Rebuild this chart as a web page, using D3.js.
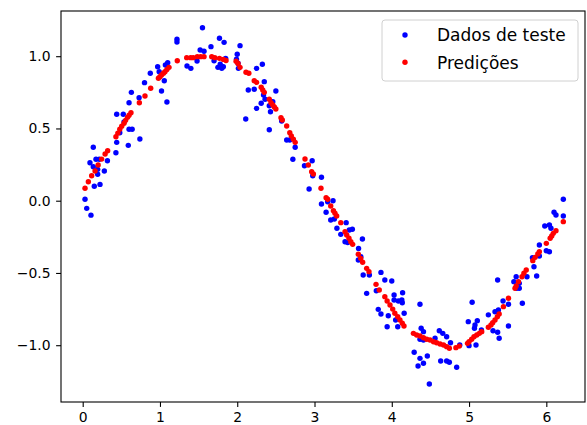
<!DOCTYPE html>
<html>
<head>
<meta charset="utf-8">
<script src="https://cdn.jsdelivr.net/npm/d3@7/dist/d3.min.js"></script>
<style>
  html, body { margin: 0; padding: 0; background: #fff; }
  svg { display: block; }
  text { font-family: "DejaVu Sans", sans-serif; fill: #000; }
</style>
</head>
<body>
<div id="chart"></div>
<script>
// Test samples of a noisy sine and the model's predictions at the same inputs
const testX = [0.137,0.172,0.215,0.32,0.094,0.137,0.194,0.28,0.194,0.15,0.224,0.03,0.052,0.107,
  0.43,0.44,0.59,0.74,0.48,0.60,0.64,0.535,0.44,0.525,0.60,0.73,0.63,0.80,0.875,0.99,0.97,1.07,
  1.10,1.056,1.02,1.09,1.22,1.22,1.35,1.40,1.48,1.52,1.57,1.55,1.66,1.70,1.77,1.83,1.78,1.82,
  1.75,1.80,1.85,1.99,2.01,2.036,2.0,2.015,2.325,2.25,2.35,2.143,2.22,2.50,2.34,2.36,2.46,2.31,
  2.25,2.415,2.43,2.11,2.575,2.415,2.64,2.68,2.75,2.72,2.97,2.87,2.977,3.09,2.93,3.09,3.17,3.24,
  3.15,3.21,3.257,3.41,3.29,3.45,3.49,3.34,3.62,3.395,3.43,3.57,3.60,3.567,3.86,3.63,3.71,3.91,
  4.0,3.80,3.675,4.14,4.03,4.03,4.085,4.13,4.136,3.825,3.86,3.955,4.16,4.05,3.94,4.077,4.365,
  4.38,4.41,4.615,4.66,4.71,4.76,4.365,4.41,4.56,4.29,4.365,4.41,4.46,4.34,4.633,4.71,4.745,4.84,
  4.486,4.88,5.0,5.09,4.99,5.107,5.077,5.07,5.16,5.04,5.25,5.336,5.38,5.31,5.37,5.39,5.44,5.51,
  5.69,5.51,5.37,5.58,5.65,5.615,5.65,5.61,5.75,5.875,5.84,5.82,5.91,5.91,6.0,6.04,5.98,6.04,
  6.06,6.10,6.125,6.22,6.22];
const testY = [0.37,0.287,0.287,0.277,0.263,0.235,0.217,0.206,0.183,0.10,0.113,0.01,-0.053,-0.10,
  0.332,0.404,0.383,0.427,0.47,0.494,0.494,0.545,0.598,0.598,0.678,0.713,0.75,0.817,0.882,0.893,
  0.927,0.939,0.955,0.83,0.759,0.683,1.117,1.098,0.932,0.916,0.967,1.043,1.034,1.197,1.066,0.969,
  1.124,1.096,0.944,0.927,0.923,0.916,0.985,0.979,0.951,1.073,1.013,0.916,0.944,0.916,0.824,0.766,
  0.771,0.759,0.731,0.702,0.685,0.674,0.639,0.657,0.616,0.565,0.552,0.491,0.42,0.42,0.37,0.287,
  0.277,0.242,0.173,0.162,0.081,-0.023,-0.007,0.0,-0.08,-0.134,-0.127,-0.152,-0.191,-0.203,-0.198,
  -0.233,-0.265,-0.284,-0.29,-0.33,-0.387,-0.41,-0.496,-0.514,-0.514,-0.549,-0.556,-0.623,-0.641,
  -0.637,-0.653,-0.687,-0.694,-0.687,-0.706,-0.752,-0.784,-0.796,-0.779,-0.826,-0.872,-0.872,-0.717,
  -0.883,-0.906,-0.9,-0.918,-0.941,-0.983,-0.959,-0.964,-0.952,-1.049,-1.091,-1.125,-1.075,-1.144,
  -1.109,-1.109,-1.118,-1.153,-1.268,-0.999,-1.003,-0.999,-0.837,-0.83,-0.86,-0.883,-0.895,-0.703,
  -0.79,-0.768,-0.756,-0.9,-0.91,-0.952,-0.694,-0.717,-0.71,-0.867,-0.549,-0.56,-0.572,-0.606,
  -0.606,-0.526,-0.526,-0.521,-0.457,-0.394,-0.383,-0.307,-0.346,-0.353,-0.175,-0.168,-0.191,-0.08,
  -0.099,-0.106,0.01];

const predX = [0.03,0.073,0.116,0.16,0.20,0.245,0.29,0.323,0.43,0.455,0.48,0.505,0.535,0.555,0.58,
  0.60,0.625,0.733,0.806,0.88,0.98,1.0,1.02,1.045,1.065,1.09,1.117,1.224,1.346,1.397,1.43,1.483,
  1.527,1.57,1.67,1.71,1.77,1.82,1.855,1.985,2.01,2.036,2.113,2.15,2.22,2.25,2.31,2.33,2.35,2.415,
  2.437,2.46,2.48,2.50,2.566,2.583,2.64,2.68,2.70,2.726,2.75,2.877,2.92,2.963,2.985,3.084,3.15,
  3.17,3.21,3.245,3.265,3.287,3.34,3.395,3.417,3.446,3.47,3.494,3.567,3.598,3.623,3.675,3.705,
  3.796,3.838,3.91,3.94,3.977,4.012,4.04,4.077,4.106,4.136,4.158,4.28,4.322,4.365,4.41,4.452,
  4.495,4.54,4.58,4.625,4.67,4.71,4.745,4.83,4.874,4.98,5.0,5.034,5.064,5.1,5.133,5.164,5.25,
  5.284,5.306,5.336,5.366,5.39,5.445,5.51,5.595,5.61,5.64,5.685,5.71,5.74,5.825,5.855,5.89,5.91,
  6.0,6.05,6.07,6.09,6.125,6.22];
const predY = [0.086,0.131,0.173,0.206,0.247,0.288,0.323,0.346,0.443,0.468,0.494,0.515,0.536,0.556,
  0.577,0.592,0.609,0.678,0.725,0.778,0.847,0.858,0.87,0.882,0.893,0.908,0.923,0.969,0.99,0.99,
  0.99,0.997,0.997,0.997,0.997,0.99,0.985,0.978,0.97,0.965,0.95,0.923,0.889,0.882,0.83,0.819,0.785,
  0.766,0.75,0.702,0.678,0.662,0.648,0.635,0.574,0.558,0.517,0.47,0.448,0.425,0.404,0.289,0.247,
  0.2,0.185,0.086,0.021,0.01,-0.037,-0.069,-0.087,-0.106,-0.152,-0.215,-0.237,-0.26,-0.284,-0.302,
  -0.371,-0.399,-0.426,-0.468,-0.491,-0.579,-0.618,-0.664,-0.694,-0.722,-0.75,-0.779,-0.803,-0.826,
  -0.848,-0.867,-0.918,-0.929,-0.936,-0.948,-0.959,-0.964,-0.976,-0.983,-0.992,-0.999,-1.01,-1.021,
  -1.017,-1.006,-0.987,-0.976,-0.959,-0.941,-0.929,-0.918,-0.906,-0.876,-0.86,-0.844,-0.826,-0.803,
  -0.784,-0.733,-0.675,-0.606,-0.59,-0.56,-0.526,-0.502,-0.48,-0.415,-0.392,-0.369,-0.353,-0.295,
  -0.26,-0.244,-0.226,-0.208,-0.145];

const xTicks = [0, 1, 2, 3, 4, 5, 6];
const yTicks = [-1.0, -0.5, 0.0, 0.5, 1.0];
const seriesNames = ["Dados de teste", "Predições"];
const seriesColors = ["#0000ff", "#ff0000"];

const W = 587, H = 425;
const plot = { left: 61, top: 11, right: 585, bottom: 402 };
const dotR = 2.7;

const svg = d3.select("#chart").append("svg")
  .attr("width", W).attr("height", H);

const x = d3.scaleLinear().domain([-0.2808, 6.5006]).range([plot.left, plot.right]);
const y = d3.scaleLinear().domain([-1.393, 1.3128]).range([plot.bottom, plot.top]);

// axes
const xAxis = svg.append("g")
  .attr("transform", `translate(0,${plot.bottom})`)
  .call(d3.axisBottom(x).tickValues(xTicks).tickFormat(d3.format("d"))
    .tickSize(4.9).tickPadding(5.2).tickSizeOuter(0));
const yAxis = svg.append("g")
  .attr("transform", `translate(${plot.left},0)`)
  .call(d3.axisLeft(y).tickValues(yTicks).tickFormat(d3.format(".1f"))
    .tickSize(4.9).tickPadding(5.6).tickSizeOuter(0));

[xAxis, yAxis].forEach(g => {
  g.select(".domain").remove();
  g.selectAll(".tick line").attr("stroke", "#000").attr("stroke-width", 1.1);
  g.selectAll(".tick text").attr("font-size", 13.9).attr("font-family", "DejaVu Sans")
    .attr("fill", "#000");
});

// points
const testPts = testX.map((d, i) => [d, testY[i]]);
const predPts = predX.map((d, i) => [d, predY[i]]);

svg.append("g").selectAll("circle").data(testPts).join("circle")
  .attr("cx", d => x(d[0])).attr("cy", d => y(d[1]))
  .attr("r", dotR).attr("fill", seriesColors[0]);

svg.append("g").selectAll("circle").data(predPts).join("circle")
  .attr("cx", d => x(d[0])).attr("cy", d => y(d[1]))
  .attr("r", dotR).attr("fill", seriesColors[1]);

// frame
svg.append("rect")
  .attr("x", plot.left).attr("y", plot.top)
  .attr("width", plot.right - plot.left).attr("height", plot.bottom - plot.top)
  .attr("fill", "none").attr("stroke", "#000").attr("stroke-width", 1.1);

// legend
const legend = svg.append("g");
legend.append("rect")
  .attr("x", 382).attr("y", 20).attr("width", 196).attr("height", 61)
  .attr("rx", 3).attr("fill", "#fff").attr("fill-opacity", 0.8)
  .attr("stroke", "#d0d0d0").attr("stroke-width", 1);

const rows = legend.selectAll("g.row").data(seriesNames).join("g")
  .attr("class", "row")
  .attr("transform", (d, i) => `translate(0,${35 + i * 27.3})`);
rows.append("circle").attr("cx", 405).attr("cy", 0).attr("r", dotR)
  .attr("fill", (d, i) => seriesColors[i]);
rows.append("text").attr("x", 437).attr("y", 6.2)
  .attr("font-size", 17).text(d => d);
</script>
</body>
</html>
